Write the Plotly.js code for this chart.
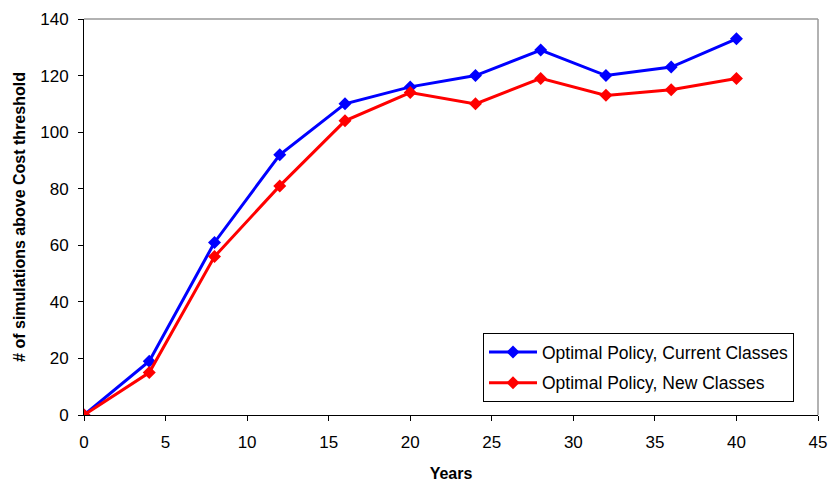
<!DOCTYPE html>
<html>
<head>
<meta charset="utf-8">
<script src="https://cdn.plot.ly/plotly-3.0.1.min.js"></script>
<style>html,body{margin:0;padding:0;background:#fff;}#chart{width:830px;height:482px;}</style>
</head>
<body>
<div id="chart"></div>
<script>
const years = [0, 4, 8, 12, 16, 20, 24, 28, 32, 36, 40];
const currentClasses = [0, 19, 61, 92, 110, 116, 120, 129, 120, 123, 133];
const newClasses = [0, 15, 56, 81, 104, 114, 110, 119, 113, 115, 119];
const seriesNames = ["Optimal Policy, Current Classes", "Optimal Policy, New Classes"];
const xTicks = [0, 5, 10, 15, 20, 25, 30, 35, 40, 45];
const yTicks = [0, 20, 40, 60, 80, 100, 120, 140];

const font = "Liberation Sans, Arial, sans-serif";
const traces = [
  {x: years, y: currentClasses, name: seriesNames[0], mode: "lines+markers", legendgroup: "a",
   line: {color: "#0000ff", width: 3}, marker: {symbol: "diamond", size: 10, color: "#0000ff"}},
  {x: years, y: newClasses, name: seriesNames[1], mode: "lines+markers", legendgroup: "b",
   line: {color: "#ff0000", width: 3}, marker: {symbol: "diamond", size: 10, color: "#ff0000"}}
];
const layout = {
  width: 830, height: 482,
  margin: {l: 84, r: 12, t: 19, b: 67},
  paper_bgcolor: "#fff", plot_bgcolor: "#fff",
  font: {family: font, size: 17, color: "#000"},
  showlegend: true,
  legend: {x: 0.5436, y: 0.207, xanchor: "left", yanchor: "top",
    bgcolor: "#fff", bordercolor: "#000", borderwidth: 1,
    traceorder: "grouped", tracegroupgap: 5, itemwidth: 48,
    font: {family: font, size: 17.5, color: "#000"}},
  xaxis: {range: [0, 45], tickvals: xTicks, ticktext: xTicks.map(String),
    showgrid: false, zeroline: false, showline: true, linecolor: "#000", linewidth: 1,
    ticks: "outside", ticklen: 5, tickcolor: "#000", ticklabelstandoff: 7,
    tickfont: {family: font, size: 17},
    title: {text: "<b>Years</b>", font: {family: font, size: 16}, standoff: 16}},
  yaxis: {range: [0, 140], tickvals: yTicks, ticktext: yTicks.map(String),
    showgrid: false, zeroline: false, showline: true, linecolor: "#000", linewidth: 1,
    ticks: "outside", ticklen: 5, tickcolor: "#000", ticklabelstandoff: 6,
    tickfont: {family: font, size: 17},
    title: {text: "<b># of simulations above Cost threshold</b>", font: {family: font, size: 16}, standoff: 10}},
  shapes: [
    {type: "line", xref: "paper", yref: "paper", x0: 0, x1: 1, y0: 1, y1: 1, line: {color: "#999", width: 1.5}},
    {type: "line", xref: "paper", yref: "paper", x0: 1, x1: 1, y0: 0, y1: 1, line: {color: "#999", width: 1.5}}
  ]
};
Plotly.newPlot("chart", traces, layout, {displayModeBar: false, staticPlot: true});
</script>
</body>
</html>
